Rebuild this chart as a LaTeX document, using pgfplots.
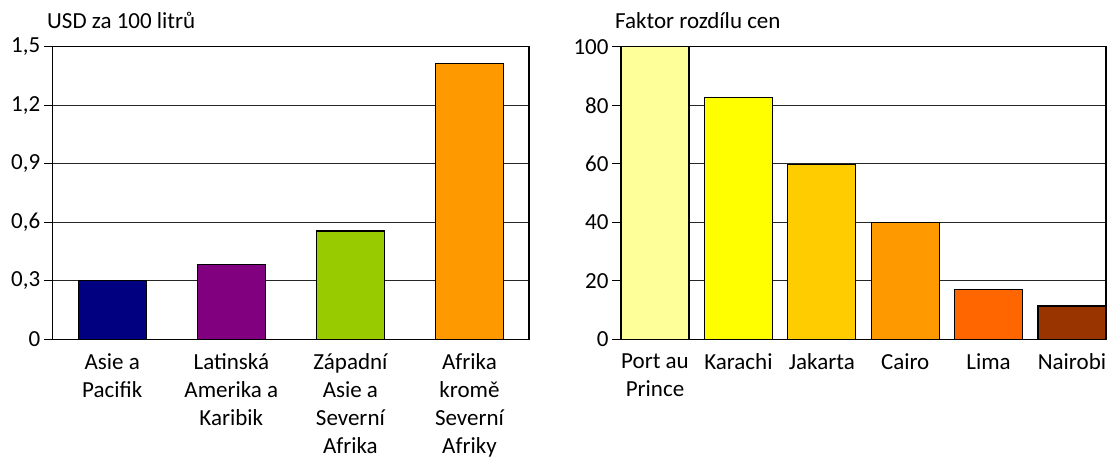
\documentclass[border=0pt]{standalone}
\usepackage{pgfplots}
\pgfplotsset{compat=1.18}
\usepackage{fontspec}
\setmainfont{Carlito}
\definecolor{cNavy}{HTML}{000080}
\definecolor{cPurple}{HTML}{800080}
\definecolor{cGreen}{HTML}{99CC00}
\definecolor{cOrange}{HTML}{FF9900}
\definecolor{cLYellow}{HTML}{FFFF99}
\definecolor{cYellow}{HTML}{FFFF00}
\definecolor{cGold}{HTML}{FFCC00}
\definecolor{cDOrange}{HTML}{FF6600}
\definecolor{cBrown}{HTML}{993300}
\pgfplotsset{
  mystyle/.style={
    scale only axis,
    axis line style={black, line width=1.3pt},
    ymin=0,
    ymajorgrids,
    grid style={black!85, line width=1.2pt},
    ytick pos=left,
    xtick pos=bottom,
    tick align=outside,
    major tick length=9pt,
    ytick style={draw=black, line width=1.3pt},
    xtick style={draw=none},
    xticklabel style={align=center, font=\fontsize{23}{28}\selectfont, inner ysep=0pt, yshift=-5pt},
    yticklabel style={font=\fontsize{23}{25}\selectfont},
    /pgf/number format/assume math mode=true,
    every axis plot/.append style={ybar, bar shift=0pt, draw=black, line width=1.3pt},
  }
}
\begin{document}
\begin{tikzpicture}
\useasboundingbox (0,0) rectangle (1114pt,-460pt);
\begin{axis}[mystyle,
  at={(52.7pt,-339.3pt)}, anchor=south west,
  width=476.3pt, height=292.5pt,
  xmin=-0.5, xmax=3.5,
  ymax=1.5,
  xtick={0,1,2,3},
  ytick={0,0.3,0.6,0.9,1.2,1.5},
  yticklabel style={/pgf/number format/.cd, use comma, fixed, precision=1},
  bar width=0.571,
  xticklabels={{Asie a\\Pacifik},{Latinská\\Amerika a\\Karibik},{Západní\\Asie a\\Severní\\Afrika},{Afrika\\kromě\\Severní\\Afriky}},
]
\addplot[fill=cNavy] coordinates {(0,0.30)};
\addplot[fill=cPurple] coordinates {(1,0.385)};
\addplot[fill=cGreen] coordinates {(2,0.555)};
\addplot[fill=cOrange] coordinates {(3,1.415)};
\end{axis}
\begin{axis}[mystyle,
  at={(621pt,-339.3pt)}, anchor=south west,
  width=485pt, height=292.5pt,
  xmin=-0.408, xmax=5.408,
  ymax=100,
  xtick={0,1,2,3,4,5},
  ytick={0,20,40,60,80,100},
  bar width=0.816,
  xticklabels={{Port au\\Prince},{Karachi},{Jakarta},{Cairo},{Lima},{Nairobi}},
]
\addplot[fill=cLYellow] coordinates {(0,100)};
\addplot[fill=cYellow] coordinates {(1,82.7)};
\addplot[fill=cGold] coordinates {(2,59.8)};
\addplot[fill=cOrange] coordinates {(3,39.9)};
\addplot[fill=cDOrange] coordinates {(4,17.0)};
\addplot[fill=cBrown] coordinates {(5,11.4)};
\end{axis}
\node[anchor=base west, font=\fontsize{23}{25}\selectfont, inner sep=0pt] at (47pt,-29pt) {USD za 100 litrů};
\node[anchor=base west, font=\fontsize{23}{25}\selectfont, inner sep=0pt] at (615pt,-29pt) {Faktor rozdílu cen};
\end{tikzpicture}
\end{document}
